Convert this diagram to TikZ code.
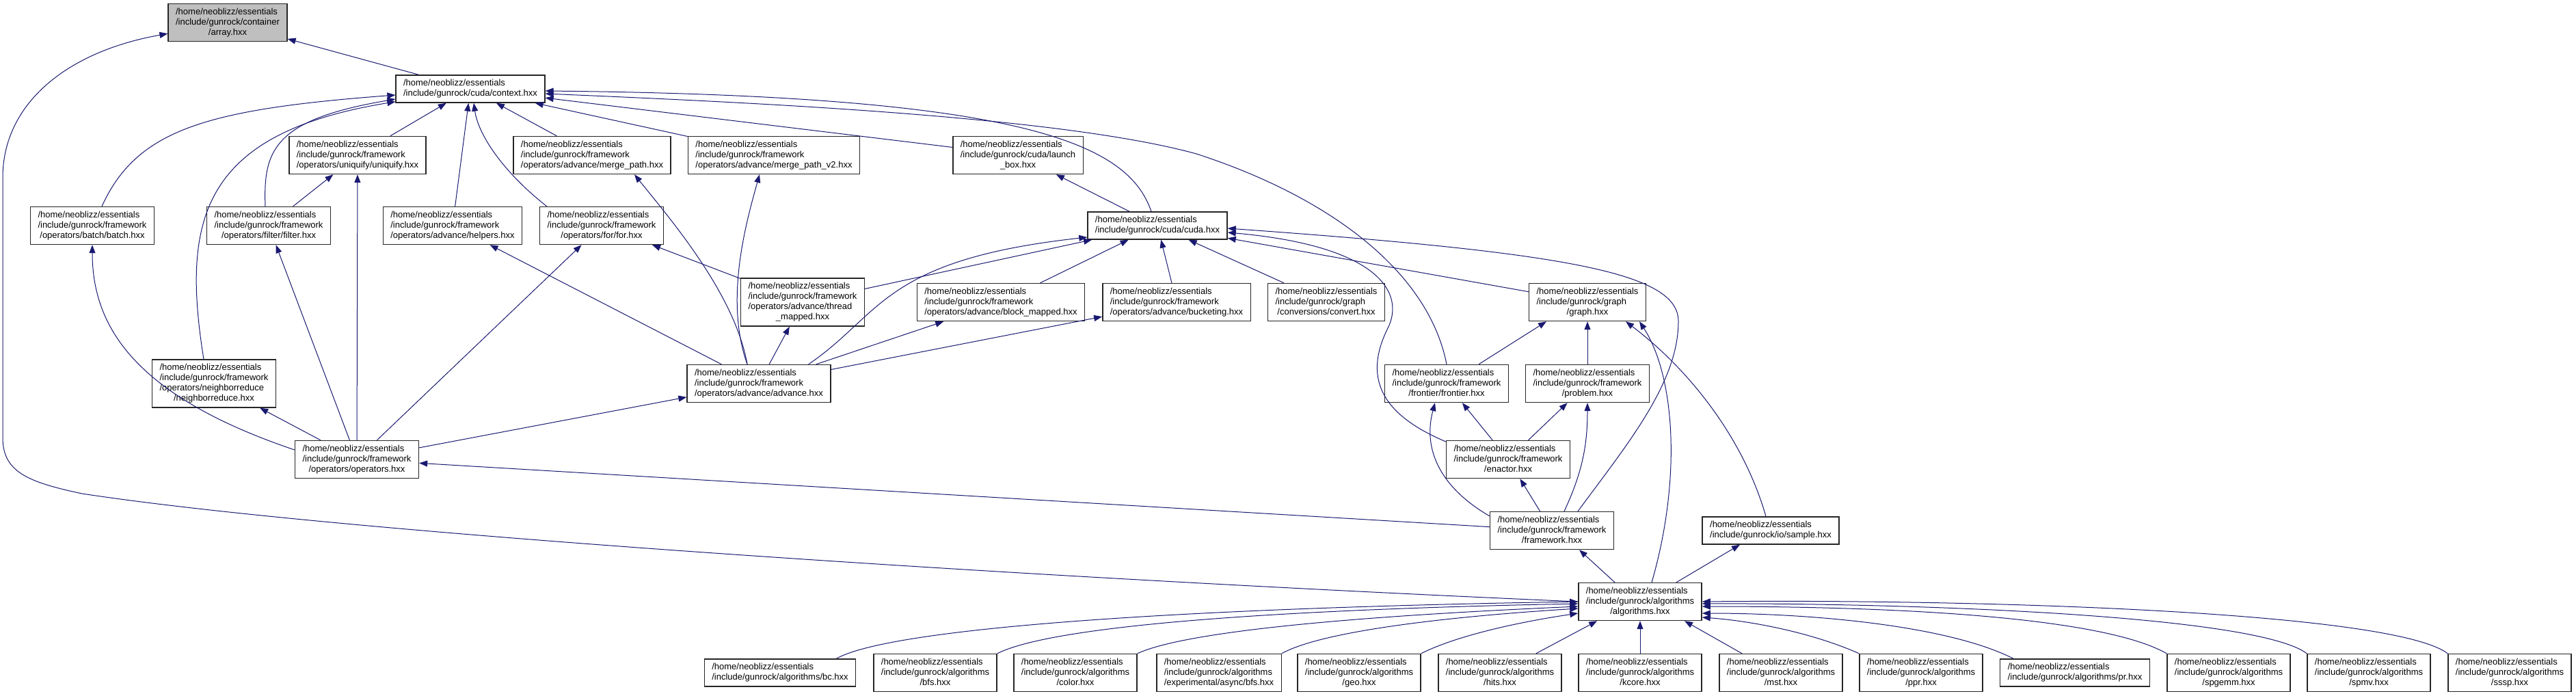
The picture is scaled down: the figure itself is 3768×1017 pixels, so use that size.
\documentclass[tikz,border=0pt]{standalone}
\usepackage{fontspec}
\setmainfont{Liberation Sans}
\definecolor{dxnavy}{RGB}{25,25,112}
\definecolor{dxgray}{RGB}{191,191,191}
\usetikzlibrary{arrows.meta,calc}
\newcommand{\fpath}[2]{\begin{tabular}{@{}l@{}}#1\\\multicolumn{1}{@{}c@{}}{#2}\end{tabular}}
\newcommand{\hme}{/home/neoblizz/essentials}
\tikzset{
  file/.style={rectangle,draw=black!85,line width=1.4pt,fill=#1,text=black,
               inner xsep=11pt,inner ysep=5pt,font=\fontsize{13}{15}\selectfont},
  file/.default=white,
  dep/.style={-{Triangle[length=12pt,width=9pt]},line width=1pt,dxnavy},
}
\begin{document}
\begin{tikzpicture}[x=1pt,y=-1pt]
  \useasboundingbox (0,0) rectangle (3768,1017);
  \node[file=dxgray] (arr) at (333,33) {\fpath{\hme\\/include/gunrock/container}{/array.hxx}};
  \node[file] (ctx) at (688,130) {\fpath{\hme}{/include/gunrock/cuda/context.hxx}};
  \node[file] (uniq) at (523,227) {\fpath{\hme\\/include/gunrock/framework}{/operators/uniquify/uniquify.hxx}};
  \node[file] (mpath) at (866,227) {\fpath{\hme\\/include/gunrock/framework}{/operators/advance/merge\_path.hxx}};
  \node[file] (mpathv) at (1132,227) {\fpath{\hme\\/include/gunrock/framework}{/operators/advance/merge\_path\_v2.hxx}};
  \node[file] (launch) at (1489,227) {\fpath{\hme\\/include/gunrock/cuda/launch}{\_box.hxx}};
  \node[file] (batch) at (135,330) {\fpath{\hme\\/include/gunrock/framework}{/operators/batch/batch.hxx}};
  \node[file] (filter) at (393,330) {\fpath{\hme\\/include/gunrock/framework}{/operators/filter/filter.hxx}};
  \node[file] (helpers) at (662,330) {\fpath{\hme\\/include/gunrock/framework}{/operators/advance/helpers.hxx}};
  \node[file] (forop) at (880,330) {\fpath{\hme\\/include/gunrock/framework}{/operators/for/for.hxx}};
  \node[file] (cuda) at (1693,330) {\fpath{\hme}{/include/gunrock/cuda/cuda.hxx}};
  \node[file] (thread) at (1174,442) {\fpath{\hme\\/include/gunrock/framework\\/operators/advance/thread}{\_mapped.hxx}};
  \node[file] (block) at (1464,442) {\fpath{\hme\\/include/gunrock/framework}{/operators/advance/block\_mapped.hxx}};
  \node[file] (bucket) at (1721,442) {\fpath{\hme\\/include/gunrock/framework}{/operators/advance/bucketing.hxx}};
  \node[file] (convert) at (1940,442) {\fpath{\hme\\/include/gunrock/graph}{/conversions/convert.hxx}};
  \node[file] (graph) at (2322,442) {\fpath{\hme\\/include/gunrock/graph}{/graph.hxx}};
  \node[file] (nbr) at (313,561) {\fpath{\hme\\/include/gunrock/framework\\/operators/neighborreduce}{/neighborreduce.hxx}};
  \node[file] (adv) at (1110,561) {\fpath{\hme\\/include/gunrock/framework}{/operators/advance/advance.hxx}};
  \node[file] (frontier) at (2116,561) {\fpath{\hme\\/include/gunrock/framework}{/frontier/frontier.hxx}};
  \node[file] (problem) at (2322,561) {\fpath{\hme\\/include/gunrock/framework}{/problem.hxx}};
  \node[file] (ops) at (522,672) {\fpath{\hme\\/include/gunrock/framework}{/operators/operators.hxx}};
  \node[file] (enactor) at (2206,672) {\fpath{\hme\\/include/gunrock/framework}{/enactor.hxx}};
  \node[file] (fwork) at (2270,776) {\fpath{\hme\\/include/gunrock/framework}{/framework.hxx}};
  \node[file] (sample) at (2590,776) {\fpath{\hme}{/include/gunrock/io/sample.hxx}};
  \node[file] (alg) at (2399,880) {\fpath{\hme\\/include/gunrock/algorithms}{/algorithms.hxx}};
  \node[file] (bc) at (1141,984) {\fpath{\hme}{/include/gunrock/algorithms/bc.hxx}};
  \node[file] (bfs) at (1368,984) {\fpath{\hme\\/include/gunrock/algorithms}{/bfs.hxx}};
  \node[file] (color) at (1573,984) {\fpath{\hme\\/include/gunrock/algorithms}{/color.hxx}};
  \node[file] (async) at (1783,984) {\fpath{\hme\\/include/gunrock/algorithms}{/experimental/async/bfs.hxx}};
  \node[file] (geo) at (1988,984) {\fpath{\hme\\/include/gunrock/algorithms}{/geo.hxx}};
  \node[file] (hits) at (2194,984) {\fpath{\hme\\/include/gunrock/algorithms}{/hits.hxx}};
  \node[file] (kcore) at (2399,984) {\fpath{\hme\\/include/gunrock/algorithms}{/kcore.hxx}};
  \node[file] (mst) at (2605,984) {\fpath{\hme\\/include/gunrock/algorithms}{/mst.hxx}};
  \node[file] (ppr) at (2810,984) {\fpath{\hme\\/include/gunrock/algorithms}{/ppr.hxx}};
  \node[file] (pr) at (3035,984) {\fpath{\hme}{/include/gunrock/algorithms/pr.hxx}};
  \node[file] (spgemm) at (3260,984) {\fpath{\hme\\/include/gunrock/algorithms}{/spgemm.hxx}};
  \node[file] (spmv) at (3465,984) {\fpath{\hme\\/include/gunrock/algorithms}{/spmv.hxx}};
  \node[file] (sssp) at (3671,984) {\fpath{\hme\\/include/gunrock/algorithms}{/sssp.hxx}};

  \draw[dep] (ctx) -- (arr);
  \draw[dep] (alg.west) .. controls (1500,845) and (500,780) .. (120,722)
    .. controls (40,705) and (4,690) .. (4,640) -- (4,260)
    .. controls (4,150) and (100,75) .. ($(arr.south west)+(0,-12)$);
  \draw[dep] ($(batch.north)+(14,0)$) .. controls (200,190) and (300,160) .. ($(ctx.west)+(0,9)$);
  \draw[dep] ($(filter.north)+(-5,0)$) .. controls (385,220) and (400,175) .. ($(ctx.west)+(0,15)$);
  \draw[dep] ($(nbr.north)+(-15,0)$) .. controls (265,320) and (295,195) .. ($(ctx.south west)+(0,-2)$);
  \draw[dep] (uniq) -- (ctx);
  \draw[dep] (helpers) -- (ctx);
  \draw[dep] ($(forop.north west)+(11,0)$) .. controls (740,255) and (700,200) .. ($(ctx.south)+(5,0)$);
  \draw[dep] (mpath) -- (ctx);
  \draw[dep] (mpathv) -- (ctx);
  \draw[dep] (launch) -- (ctx);
  \draw[dep] ($(cuda.north)+(-9,0)$) .. controls (1650,210) and (1500,140) .. ($(ctx.east)+(0,3)$);
  \draw[dep] (frontier.north) .. controls (2090,400) and (1950,290) .. (1750,225)
    .. controls (1550,170) and (1100,150) .. ($(ctx.east)+(0,7)$);
  \draw[dep] (ops) -- (uniq);
  \draw[dep] (filter) -- (uniq);
  \draw[dep] (ops) -- (filter);
  \draw[dep] (ops) -- (nbr);
  \draw[dep] ($(ops.west)+(0,-14)$) .. controls (200,580) and (135,480) .. (batch.south);
  \draw[dep] (ops) -- (forop);
  \draw[dep] (ops) -- (adv);
  \draw[dep] (fwork) -- (ops);
  \draw[dep] (adv) -- (helpers);
  \draw[dep] ($(adv.north)+(-17,0)$) .. controls (1075,430) and (980,320) .. ($(mpath.south)+(62,0)$);
  \draw[dep] ($(adv.north)+(-17,0)$) .. controls (1060,440) and (1090,330) .. ($(mpathv.south)+(-21,0)$);
  \draw[dep] (adv) -- (thread);
  \draw[dep] (thread) -- (forop);
  \draw[dep] (adv) -- (block);
  \draw[dep] (adv) -- (bucket);
  \draw[dep] ($(adv.north east)+(-33,0)$) .. controls (1290,460) and (1290,380) .. ($(cuda.west)+(0,17)$);
  \draw[dep] (thread) -- (cuda);
  \draw[dep] (cuda) -- (launch);
  \draw[dep] (block) -- (cuda);
  \draw[dep] (bucket) -- (cuda);
  \draw[dep] (convert) -- (cuda);
  \draw[dep] (graph) -- (cuda);
  \draw[dep] ($(enactor.west)+(0,-26)$) .. controls (2030,610) and (1990,560) .. (2030,480)
    .. controls (2055,430) and (2020,360) .. ($(cuda.east)+(0,10)$);
  \draw[dep] ($(fwork.north)+(38,0)$) .. controls (2380,650) and (2455,560) .. (2455,470)
    .. controls (2455,400) and (2300,370) .. ($(cuda.east)+(0,4)$);
  \draw[dep] ($(frontier.north)+(47,0)$) -- ($(graph.south)+(-60,0)$);
  \draw[dep] (problem) -- (graph);
  \draw[dep] (enactor) -- (frontier);
  \draw[dep] (enactor) -- (problem);
  \draw[dep] (fwork) -- (enactor);
  \draw[dep] ($(fwork.north west)+(0,7)$) .. controls (2110,715) and (2080,660) .. ($(frontier.south)+(-17,0)$);
  \draw[dep] ($(fwork.north)+(18,0)$) .. controls (2315,690) and (2322,650) .. (problem.south);
  \draw[dep] ($(alg.north)+(-37,0)$) -- ($(fwork.south)+(40,0)$);
  \draw[dep] ($(alg.north)+(17,0)$) .. controls (2460,700) and (2450,550) .. ($(graph.south)+(76,0)$);
  \draw[dep] ($(alg.north)+(53,0)$) -- ($(sample.south)+(-45,0)$);
  \draw[dep] ($(sample.north)+(-7,0)$) .. controls (2550,640) and (2470,540) .. ($(graph.south)+(56,0)$);

  \draw[dep] ($(bc.north east)+(-29,0)$) .. controls (1300,920) and (1700,890) .. (alg.west);
  \draw[dep] (bfs.north east) .. controls (1530,920) and (1800,893) .. ($(alg.west)+(0,3)$);
  \draw[dep] (color.north east) .. controls (1720,930) and (1900,905) .. ($(alg.west)+(0,7)$);
  \draw[dep] (async.north east) .. controls (1930,925) and (2100,903) .. ($(alg.west)+(0,10)$);
  \draw[dep] (geo.north east) .. controls (2130,930) and (2220,910) .. ($(alg.west)+(0,17)$);
  \draw[dep] ($(hits.north east)+(-38,0)$) -- ($(alg.south west)+(28,0)$);
  \draw[dep] (kcore) -- (alg);
  \draw[dep] ($(mst.north)+(-57,0)$) -- ($(alg.south)+(65,0)$);
  \draw[dep] (ppr.north west) .. controls (2650,925) and (2560,908) .. ($(alg.east)+(0,23)$);
  \draw[dep] ($(pr.north west)+(20,0)$) .. controls (2850,915) and (2650,897) .. ($(alg.east)+(0,17)$);
  \draw[dep] (spgemm.north west) .. controls (3080,905) and (2800,887) .. ($(alg.east)+(0,7)$);
  \draw[dep] (spmv.north west) .. controls (3300,900) and (2800,882) .. ($(alg.east)+(0,3)$);
  \draw[dep] (sssp.north west) .. controls (3500,895) and (2900,876) .. (alg.east);
\end{tikzpicture}
\end{document}
